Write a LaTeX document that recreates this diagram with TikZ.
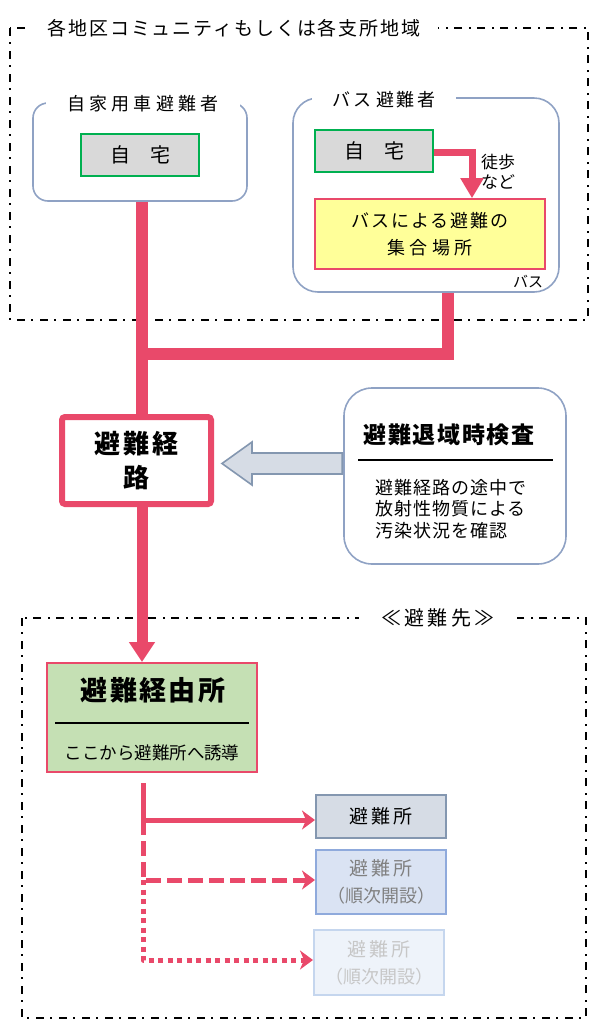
\documentclass[tikz,border=0pt]{standalone}
\usepackage{fontspec}
\setmainfont{Noto Sans CJK JP}
\usetikzlibrary{arrows.meta,calc}
\definecolor{rl}{HTML}{E9496A}
\definecolor{grpc}{HTML}{8FA2C4}
\definecolor{greenc}{HTML}{00B050}
\definecolor{grayc}{HTML}{D9D9D9}
\definecolor{yelc}{HTML}{FFFF99}
\definecolor{viac}{HTML}{C5E0B4}
\definecolor{hol}{HTML}{D6DCE5}
\definecolor{holb}{HTML}{8497B0}
\definecolor{s2f}{HTML}{DAE3F3}
\definecolor{s2b}{HTML}{8FAADC}
\definecolor{s3f}{HTML}{EEF3FA}
\definecolor{s3b}{HTML}{C5D6EE}
\newcommand\myfs[2]{\fontsize{#1}{#2}\selectfont}
\newcommand\myls[1]{\addfontfeature{LetterSpace=#1}}
\begin{document}
\begin{tikzpicture}[x=1pt,y=-1pt,
  ddot/.style={line width=2pt, dash pattern=on 8pt off 6pt on 2pt off 7pt},
  grp/.style={draw=grpc, line width=1.6pt, rounded corners=#1},
  grptitle/.style={fill=white, inner sep=0pt, minimum height=22pt},
  home/.style={draw=greenc, fill=grayc, line width=2pt, minimum width=118pt, minimum height=42pt, inner sep=0pt, font=\myfs{20}{24}},
  redline/.style={draw=rl, line width=12pt, line join=miter},
  brline/.style={draw=rl, line width=5pt, line join=round, -{Stealth[length=13pt,width=19pt,inset=4pt]}},
  shel/.style={line width=2pt, minimum width=130pt, inner sep=0pt, align=center}
]
\useasboundingbox (0,0) rectangle (596,1029);

% ---------- upper region frame ----------
\draw[ddot] (10,28) rectangle (588,320);
\node[grptitle, minimum width=408pt, font=\myfs{19}{22}\myls{10}] (t1) at (234,28) {各地区コミュニティもしくは各支所地域};

% ---------- private car evacuees ----------
\node[grp=15pt, minimum width=214pt, minimum height=98pt] (g1) at (140,152) {};
\node[grptitle, minimum width=194pt, font=\myfs{18}{22}\myls{24}] (g1t) at (143,104) {自家用車避難者};
\node[home] (h1) at (140,155) {自\hspace{1em}宅};

% ---------- bus evacuees ----------
\node[grp=25pt, minimum width=266pt, minimum height=194pt] (g2) at (426,195) {};
\node[grptitle, minimum width=144pt, font=\myfs{18}{22}\myls{15}] (g2t) at (384,100) {バス\hspace{5pt}避難者};
\node[home] (h2) at (374,151) {自\hspace{1em}宅};
\node[draw=rl, fill=yelc, line width=1.6pt, minimum width=230pt, minimum height=70pt, inner sep=0pt, align=center, font=\myfs{18}{27}] (gather) at (430,234)
  {{\myls{10}バスによる避難の}\\{\myls{25}集合場所}};
\node[anchor=west, inner sep=0pt, align=left, font=\myfs{17}{20}] (walk) at (481,172) {徒歩\\など};
\node[inner sep=0pt, font=\myfs{15}{18}] (buslbl) at (528,282) {バス};
\coordinate (bend) at (472,152);
\draw[draw=rl, line width=7pt, line join=miter, -{Triangle[length=20pt,width=22pt]}] (h2.east |- bend) -- (bend) -- (bend |- gather.north);

% ---------- trunk lines ----------
\coordinate (j1) at (142,354);
\coordinate (j2) at (448,354);
\node[draw=rl, line width=6pt, rounded corners=3pt, minimum width=149pt, minimum height=87pt, inner sep=0pt, align=center, font=\bfseries\myfs{26}{34}\myls{12}] (route) at (136.5,460.5) {避難経\\路};
\draw[redline] (g1.south -| j1) -- (j1 |- route.north);
\draw[redline] (g2.south -| j2) -- (j2) -- (j1);

% ---------- inspection ----------
\node[grp=28pt, minimum width=222pt, minimum height=176pt] (chk) at (455,476) {};
\node[inner sep=0pt, font=\bfseries\myfs{23}{26}\myls{7}] (chkt) at (449,435) {避難退域時検査};
\draw[line width=2pt] ($(chk.west)+(15,-16)$) -- ($(chk.east)+(-14,-16)$);
\node[inner sep=0pt, align=left, font=\myfs{18}{21.5}\myls{5}] (chkb) at (451,509) {避難経路の途中で\\放射性物質による\\汚染状況を確認};
% hollow arrow
\draw[fill=hol, draw=holb, line width=1.6pt, line join=miter]
  ($(chk.west)+(-1,-23)$) -- (252,453) -- (252,442) -- (222,463.5) -- (252,485) -- (252,474) -- ($(chk.west)+(-1,-2)$) -- cycle;

% ---------- destination region ----------
\draw[ddot] (22,618) rectangle (586,1018);
\node[grptitle, minimum width=158pt, font=\myfs{20}{24}\myls{17}] (t2) at (438,618) {≪避難先≫};

\node[draw=rl, fill=viac, line width=2pt, minimum width=210pt, minimum height=109pt, inner sep=0pt] (via) at (152,717.5) {};
\node[inner sep=0pt, font=\bfseries\myfs{27}{30}\myls{9}] (viat) at (153,690) {避難経由所};
\draw[line width=2pt] ($(via.west)+(9,5.5)$) -- ($(via.east)+(-9,5.5)$);
\node[inner sep=0pt, font=\myfs{17.5}{20}] (viab) at (152,753) {ここから避難所へ誘導};
\draw[draw=rl, line width=11pt, -{Triangle[length=20pt,width=25pt]}] (route.south -| j1) -- (via.north -| j1);

% shelters
\node[shel, draw=holb, fill=hol, minimum height=43pt, font=\myfs{19}{22}\myls{15}] (s1) at (381,816.5) {避難所};
\node[shel, draw=s2b, fill=s2f, minimum height=64pt, text=black!50, font=\myfs{19}{27}] (s2) at (381,882) {{\myls{15}避難所}\\{\myfs{18}{27}（順次開設）}};
\node[shel, draw=s3b, fill=s3f, minimum height=65pt, text=black!22, font=\myfs{19}{27}] (s3) at (379,962.5) {{\myls{15}避難所}\\{\myfs{18}{27}（順次開設）}};

\coordinate (b0) at (143,783);
\coordinate (b1) at (143,820);
\coordinate (b2) at (143,880);
\coordinate (b3) at (143,960);
\draw[brline] (b0) -- (b1) -- (b1 -| s1.west);
\draw[brline, dash pattern=on 15pt off 6pt] (b1) -- (b2) -- (b2 -| s2.west);
\draw[brline, dash pattern=on 5pt off 4.5pt] (b2) -- (b3) -- (b3 -| s3.west);
\end{tikzpicture}
\end{document}
